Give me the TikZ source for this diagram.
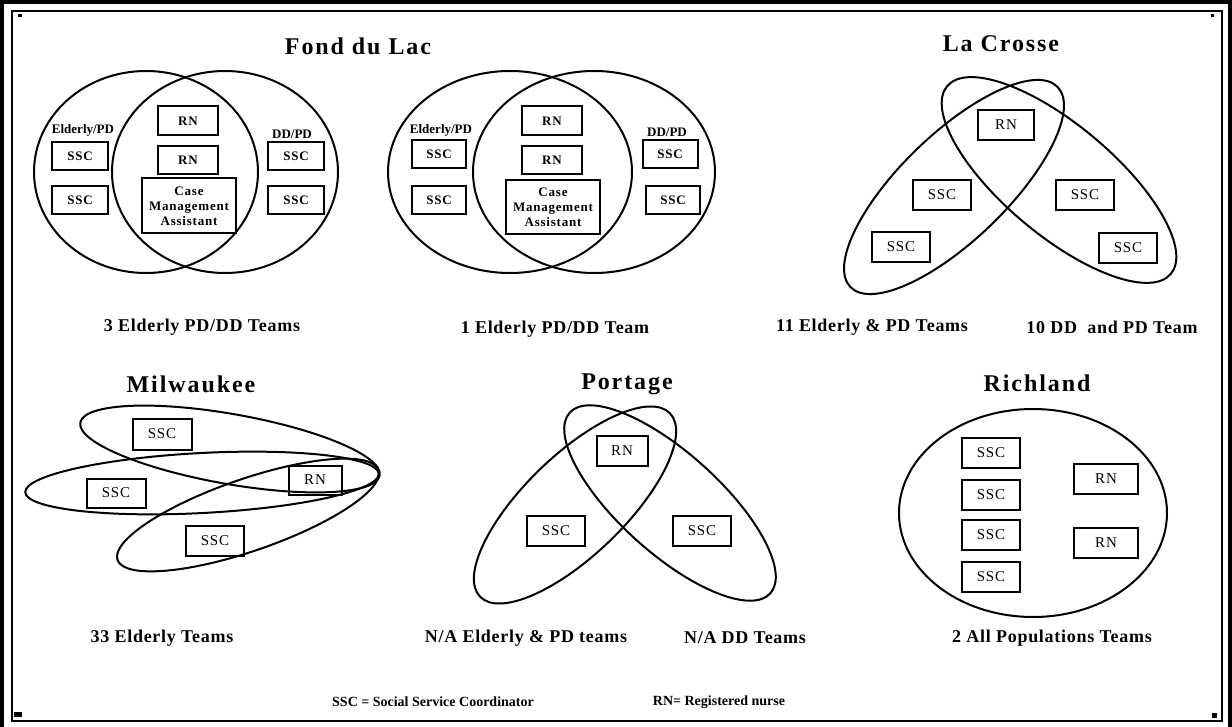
\documentclass[tikz,border=0pt]{standalone}
\usepackage{fontspec}
\setmainfont{Liberation Serif}
\newfontfamily\trackfont[LetterSpace=6]{Liberation Serif}
\newfontfamily\notefont[LetterSpace=4]{Liberation Serif}
\newfontfamily\titlefont[LetterSpace=8]{Liberation Serif}
\usetikzlibrary{shapes.geometric}

\begin{document}
\begin{tikzpicture}[x=0.5pt, y=-0.5pt,
    region/.style={draw, ellipse, line width=1pt, inner sep=0pt},
    teambox/.style={draw, line width=1pt, minimum width=29pt, minimum height=15pt, inner sep=0pt,
      font=\trackfont\fontsize{7.5}{8}\selectfont},
    boldbox/.style={teambox, font=\trackfont\bfseries\fontsize{6.5}{7.5}\selectfont},
    town/.style={font=\titlefont\bfseries\fontsize{12}{14}\selectfont},
    teamnote/.style={font=\notefont\bfseries\fontsize{9}{11}\selectfont},
    tag/.style={font=\bfseries\fontsize{6.5}{7.5}\selectfont},
    keynote/.style={font=\bfseries\fontsize{7}{8}\selectfont}]

      \useasboundingbox (0,0) rectangle (1232,727);

      % page frame
      \fill (0,0) rectangle (4,727);
      \fill (0,0) rectangle (1232,4);
      \fill (1228,0) rectangle (1232,727);
      \draw[line width=1pt] (12,11) rectangle (1222,721);
      \fill (18,14) rectangle (22,17);
      \fill (1211,14) rectangle (1214,17);
      \fill (14,712) rectangle (22,717);
      \fill (1212,713) rectangle (1217,718);

      % Fond du Lac
      \node[town] (fdl) at (358,46) {Fond du Lac};

      \node[region, minimum width=112pt, minimum height=101pt] (fdlAl) at (146,172) {};
      \node[region, minimum width=113pt, minimum height=101pt] (fdlAr) at (225,172) {};
      \node[tag] (fdlAtl) at (83,130) {Elderly/PD};
      \node[tag] (fdlAtr) at (292,134) {DD/PD};
      \node[boldbox, minimum width=28pt, minimum height=14pt] (fdlAs1) at (80,156) {SSC};
      \node[boldbox, minimum width=28pt, minimum height=14pt] (fdlAs2) at (80,200) {SSC};
      \node[boldbox, minimum width=28pt, minimum height=14pt] (fdlAs3) at (296,156) {SSC};
      \node[boldbox, minimum width=28pt, minimum height=14pt] (fdlAs4) at (296,200) {SSC};
      \node[boldbox, minimum width=30pt, minimum height=14.5pt] (fdlAr1) at (188,121) {RN};
      \node[boldbox, minimum width=30pt, minimum height=14pt] (fdlAr2) at (188,160) {RN};
      \node[boldbox, minimum width=47pt, minimum height=27.5pt, align=center] (fdlAc) at (189,206)
        {Case\\Management\\Assistant};
      \node[teamnote] (fdlAn) at (202,327) {3 Elderly PD/DD Teams};

      \node[region, minimum width=122pt, minimum height=101pt] (fdlBl) at (510,172) {};
      \node[region, minimum width=121pt, minimum height=101pt] (fdlBr) at (594,172) {};
      \node[tag] (fdlBtl) at (441,130) {Elderly/PD};
      \node[tag] (fdlBtr) at (667,132) {DD/PD};
      \node[boldbox, minimum width=27pt, minimum height=14pt] (fdlBs1) at (439,154) {SSC};
      \node[boldbox, minimum width=27pt, minimum height=14pt] (fdlBs2) at (439,200) {SSC};
      \node[boldbox, minimum width=27.5pt, minimum height=14pt] (fdlBs3) at (670,154) {SSC};
      \node[boldbox, minimum width=27pt, minimum height=14pt] (fdlBs4) at (673,200) {SSC};
      \node[boldbox, minimum width=30pt, minimum height=14.5pt] (fdlBr1) at (552,121) {RN};
      \node[boldbox, minimum width=30pt, minimum height=14pt] (fdlBr2) at (552,160) {RN};
      \node[boldbox, minimum width=47pt, minimum height=27pt, align=center] (fdlBc) at (553,207)
        {Case\\Management\\Assistant};
      \node[teamnote] (fdlBn) at (555,329) {1 Elderly PD/DD Team};

      % La Crosse
      \node[town] (lax) at (1001,44) {La Crosse};
      \node[region, minimum width=144pt, minimum height=53pt, rotate=44] (laxl) at (954,187) {};
      \node[region, minimum width=146pt, minimum height=55pt, rotate=-40] (laxr) at (1059,180) {};
      \node[teambox, minimum width=28pt] (laxr1) at (1006,125) {RN};
      \node[teambox] (laxs1) at (942,195) {SSC};
      \node[teambox] (laxs2) at (901,247) {SSC};
      \node[teambox] (laxs3) at (1085,195) {SSC};
      \node[teambox] (laxs4) at (1128,248) {SSC};
      \node[teamnote] (laxnl) at (872,327) {11 Elderly \& PD Teams};
      \node[teamnote] (laxnr) at (1112,327) {10 DD\ \ and PD Team};

      % Milwaukee
      \node[town] (mke) at (191,384) {Milwaukee};
      \node[region, minimum width=152pt, minimum height=35pt, rotate=-10] (mkeA) at (230,449) {};
      \node[region, minimum width=177pt, minimum height=30pt, rotate=3] (mkeB) at (202,483) {};
      \node[region, minimum width=138pt, minimum height=36pt, rotate=19] (mkeC) at (248,515) {};
      \node[teambox, minimum width=29.5pt, minimum height=15.5pt] (mkes1) at (162,434) {SSC};
      \node[teambox, minimum width=29.5pt, minimum height=14.5pt] (mkes2) at (116,493) {SSC};
      \node[teambox, minimum width=29pt] (mkes3) at (215,541) {SSC};
      \node[teambox, minimum width=26.5pt, minimum height=14.5pt] (mker1) at (315,480) {RN};
      \node[teamnote] (mken) at (162,638) {33 Elderly Teams};

      % Portage
      \node[town] (por) at (627,384) {Portage};
      \node[region, minimum width=132pt, minimum height=50pt, rotate=44] (porl) at (575,505) {};
      \node[region, minimum width=135pt, minimum height=50pt, rotate=-42] (porr) at (670,503) {};
      \node[teambox, minimum width=25.5pt] (porr1) at (622,451) {RN};
      \node[teambox] (pors1) at (556,531) {SSC};
      \node[teambox] (pors2) at (702,531) {SSC};
      \node[teamnote] (pornl) at (526,638) {N/A Elderly \& PD teams};
      \node[teamnote] (pornr) at (745,638) {N/A DD Teams};

      % Richland
      \node[town] (ric) at (1037,383) {Richland};
      \node[region, minimum width=134pt, minimum height=104pt] (rica) at (1033,513) {};
      \foreach \k/\y in {1/453, 2/495, 3/535, 4/577}{
        \node[teambox] (rics\k) at (991,\y) {SSC};
      }
      \node[teambox, minimum width=32pt] (ricr1) at (1106,479) {RN};
      \node[teambox, minimum width=32pt] (ricr2) at (1106,543) {RN};
      \node[teamnote] (ricn) at (1052,638) {2 All Populations Teams};

      % key
      \node[keynote] (keyssc) at (433,702) {SSC = Social Service Coordinator};
      \node[keynote] (keyrn) at (719,702) {RN= Registered nurse};

    \end{tikzpicture}
\end{document}
